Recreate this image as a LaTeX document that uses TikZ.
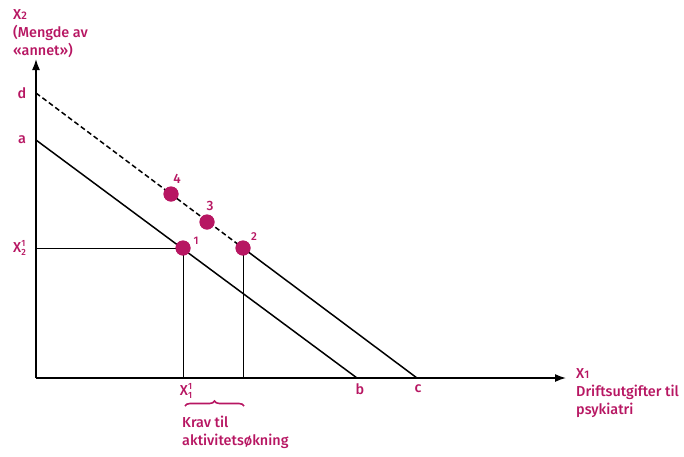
\documentclass[tikz,border=0pt]{standalone}
\usepackage{fontspec}
\setmainfont{Fira Sans Medium}
\usetikzlibrary{arrows.meta,decorations.pathreplacing}
\definecolor{mag}{RGB}{183,22,98}
\newcommand{\supsub}[2]{\makebox[0pt][l]{\raisebox{6pt}{\fontsize{9}{9}\selectfont #1}}\raisebox{-3.5pt}{\fontsize{9}{9}\selectfont #2}}
\tikzset{
  lbl/.style={text=mag,font=\fontsize{14.4}{18}\selectfont,inner sep=0pt},
  num/.style={text=mag,font=\fontsize{13.5}{15}\selectfont,inner sep=0pt},
  axis/.style={line width=1.5pt,-{Latex[length=11pt,width=8pt]}},
  budget/.style={line width=1.5pt},
  thin/.style={line width=0.9pt},
  dot/.style={circle,fill=mag,minimum size=15pt,inner sep=0pt},
}
\begin{document}
\begin{tikzpicture}[x=1pt,y=-1pt]
\useasboundingbox (0,0) rectangle (684,456);
\coordinate (O) at (36,378);
\coordinate (ytip) at (36,59);
\coordinate (xtip) at (566,378);
\coordinate (d) at (36,93);
\coordinate (a) at (36,140);
\coordinate (b) at (357,378);
\coordinate (c) at (417,378);
\coordinate (y1) at (36,248);
\coordinate (f1) at (183,378);
\coordinate (f2) at (243,378);
% axes
\draw[axis] (O) -- (ytip);
\draw[axis] (O) -- (xtip);
% budget lines
\draw[budget] (a) -- (b);
\node[dot] (p1) at (183,248) {};
\node[dot] (p2) at (243,248) {};
\node[dot] (p3) at (207,222) {};
\node[dot] (p4) at (171,194) {};
\draw[budget,dash pattern=on 5pt off 3pt] (d) -- (p2.center);
\draw[budget] (p2.center) -- (c);
% guide lines
\draw[thin] (y1) -- (p1.center);
\draw[thin] (p1.center) -- (f1);
\draw[thin] (p2.center) -- (f2);
\node[dot] at (p1) {};
\node[dot] at (p2) {};
\node[dot] at (p3) {};
\node[dot] at (p4) {};
% point labels
\node[num] (l4) at (177,179) {4};
\node[num] (l3) at (210,206) {3};
\node[num,font=\fontsize{11}{12}\selectfont] (l1) at (196,241) {1};
\node[num,font=\fontsize{11.5}{12}\selectfont] (l2) at (254,237) {2};
% axis labels
\node[lbl] (ld) at (22,93) {d};
\node[lbl] (la) at (22,140) {a};
\node[lbl,anchor=west] (lx2) at (13,248) {X\supsub{1}{2}};
\node[lbl] (lx1) at (186,391) {X\supsub{1}{1}};
\node[lbl] (lb) at (360,389) {b};
\node[lbl] (lc) at (418,389) {c};
\node[lbl,anchor=north west,align=left] (ytitle) at (13,9) {X{\fontsize{11}{11}\selectfont 2}\\(Mengde av\\«annet»)};
\node[lbl,anchor=north west,align=left] (xtitle) at (576,368) {X{\fontsize{11}{11}\selectfont 1}\\Driftsutgifter til\\psykiatri};
% brace
\coordinate (br1) at (185,406);
\coordinate (br2) at (244,406);
\draw[mag,line width=1.6pt,decorate,decoration={brace,amplitude=5pt}] (br1) -- (br2);
\node[lbl,anchor=north west,align=left] (krav) at (182,416) {Krav til\\aktivitetsøkning};
\end{tikzpicture}
\end{document}
